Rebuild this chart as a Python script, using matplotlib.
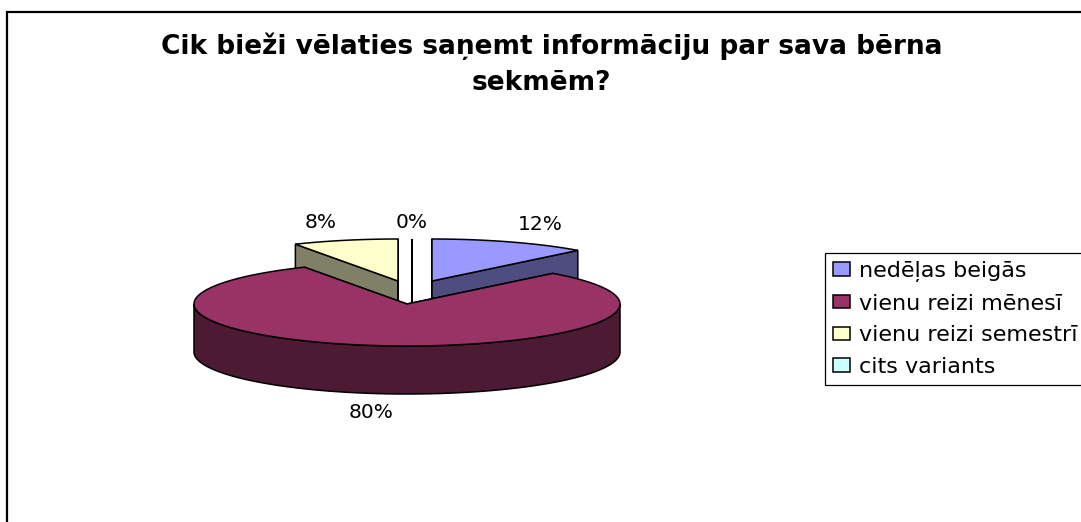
import numpy as np
import matplotlib
matplotlib.use("Agg")
import matplotlib.pyplot as plt
from matplotlib.patches import Patch, Rectangle

# reference text is stretched wide, DejaVu is the closest in width
plt.rcParams['font.family'] = ['DejaVu Sans']

title_lines = ["Cik bieži vēlaties saņemt informāciju par sava bērna", "sekmēm?"]
categories = ["nedēļas beigās", "vienu reizi mēnesī", "vienu reizi semestrī", "cits variants"]
values = [12, 80, 8, 0]
top_colors = ["#9999FF", "#993366", "#FFFFCC", "#CCFFFF"]
side_colors = ["#4D4D80", "#4D1A33", "#808066", "#668080"]

# pie layout, in pixels of the picture
cx, cy = 407, 304
rx, ry = 213, 42
depth = 48
explode = [(25, -23), (0, 0), (-9, -23), (5, -23)]
label_pos = [(540, 224), (371, 413), (321, 222), (412, 222)]
draw_order = [0, 2, 3, 1]


def rim(a, ox, oy):
    a = np.radians(a)
    return cx + ox + rx * np.sin(a), cy + oy - ry * np.cos(a)


fig = plt.figure(figsize=(10.81, 5.22), dpi=100)
ax = fig.add_axes([0, 0, 1, 1])
ax.set_xlim(0, 1081)
ax.set_ylim(522, 0)
ax.axis("off")

# chart area border runs off the right and bottom of the picture
ax.add_patch(Rectangle((7, 12), 1200, 600, fc="white", ec="black", lw=1.6))

ends = np.cumsum(values) * 3.6
starts = ends - np.array(values) * 3.6

for i in draw_order:
    ox, oy = explode[i]
    a0, a1 = starts[i], ends[i]
    tip = (cx + ox, cy + oy)
    z = 2 + draw_order.index(i)
    # cut faces
    for a in (a0, a1):
        x, y = rim(a, ox, oy)
        ax.fill([tip[0], x, x, tip[0]], [tip[1], y, y + depth, tip[1] + depth],
                fc=side_colors[i], ec="black", lw=1.1, zorder=z)
    # front rim
    f0, f1 = max(a0, 90), min(a1, 270)
    if f1 > f0:
        aa = np.linspace(f0, f1, 120)
        xs, ys = rim(aa, ox, oy)
        ax.fill(np.r_[xs, xs[::-1]], np.r_[ys, ys[::-1] + depth],
                fc=side_colors[i], ec="black", lw=1.1, zorder=z)
    # top face
    aa = np.linspace(a0, a1, 200)
    xs, ys = rim(aa, ox, oy)
    ax.fill(np.r_[tip[0], xs], np.r_[tip[1], ys],
            fc=top_colors[i], ec="black", lw=1.1, zorder=z)

for v, (x, y) in zip(values, label_pos):
    ax.text(x, y, f"{v}%", ha="center", va="center", fontsize=14.5, color="black", zorder=10)

ax.text(552, 46, title_lines[0], ha="center", va="center", fontsize=19, fontweight="bold")
ax.text(541, 83, title_lines[1], ha="center", va="center", fontsize=19, fontweight="bold")

handles = [Patch(fc=c, ec="black", lw=1.1) for c in top_colors]
leg = ax.legend(handles, categories, loc="upper left", bbox_to_anchor=(825, 253),
                bbox_transform=ax.transData, fontsize=16, frameon=True, fancybox=False,
                edgecolor="black", framealpha=1, borderaxespad=0, borderpad=0.36,
                handlelength=0.75, handleheight=0.55, handletextpad=0.4, labelspacing=0.52)
leg.get_frame().set_linewidth(0.9)

fig.savefig("out.png", dpi=100)
